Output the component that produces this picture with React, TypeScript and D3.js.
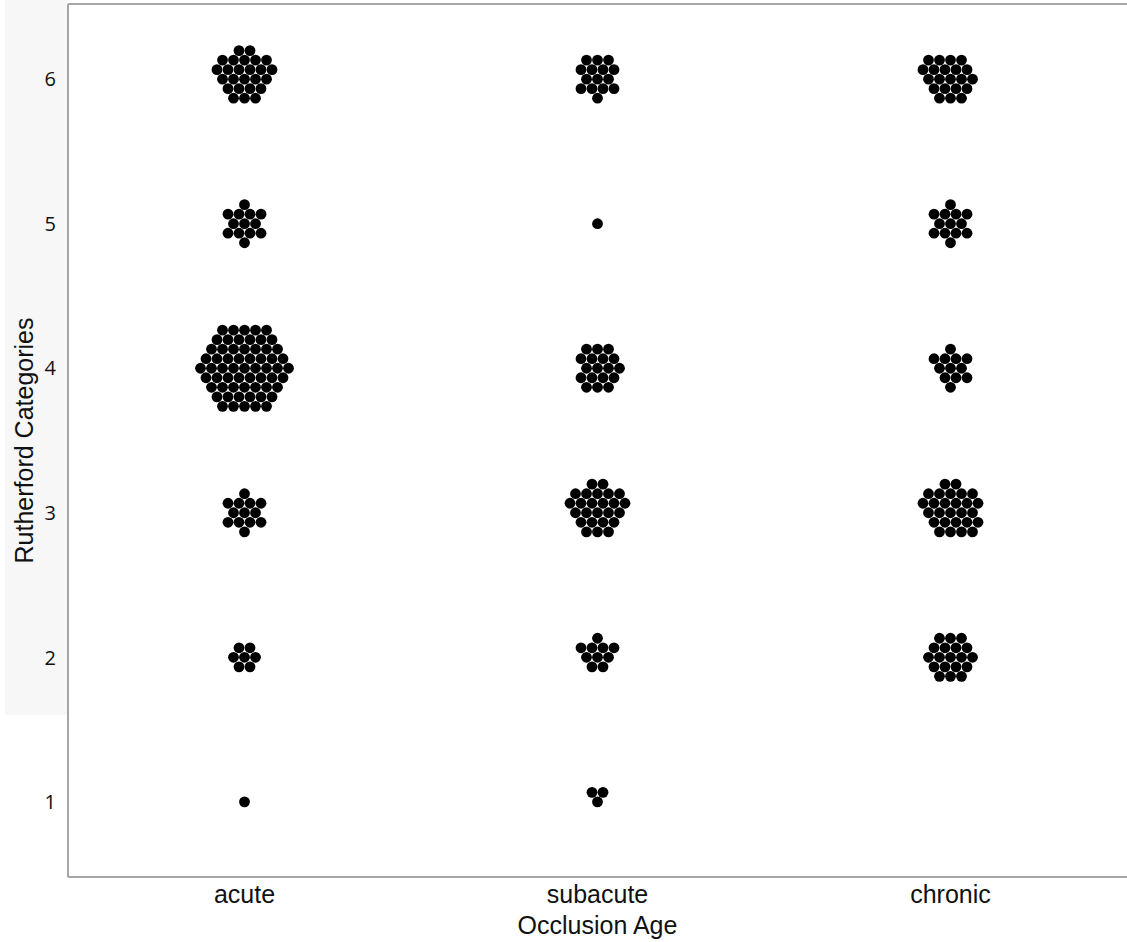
import { useRef, useEffect } from 'react';
import * as d3 from 'd3';

// Occlusion age groups and Rutherford categories
const categories = ["acute", "subacute", "chronic"];
const levels = [1, 2, 3, 4, 5, 6];
// number of patients per Rutherford category (index = level - 1)
const acuteCounts = [1, 7, 13, 61, 13, 25];
const subacuteCounts = [3, 10, 25, 18, 1, 15];
const chronicCounts = [0, 19, 27, 12, 13, 21];
const yTicks = [1, 2, 3, 4, 5, 6];

const countsByCategory: Record<string, number[]> = {
  acute: acuteCounts,
  subacute: subacuteCounts,
  chronic: chronicCounts,
};

const W = 1127;
const H = 942;

// hex-packed offsets, nearest to the centre first
const hexOffsets = (n: number, step: number) => {
  const rowH = step * Math.sqrt(3) / 2;
  const R = 12;
  const cand: { dx: number; dy: number; d: number; a: number }[] = [];
  for (let r = -R; r <= R; r++) {
    for (let c = -R; c <= R; c++) {
      const dx = (c + (Math.abs(r) % 2 ? 0.5 : 0)) * step;
      const dy = r * rowH;
      cand.push({ dx, dy, d: Math.hypot(dx, dy), a: Math.atan2(dy, dx) });
    }
  }
  cand.sort((p, q) => (Math.abs(p.d - q.d) > 0.01 ? p.d - q.d : p.a - q.a));
  return cand.slice(0, n);
};

const App = () => {
  const svgRef = useRef<SVGSVGElement>(null);

  useEffect(() => {
    const svg = d3.select(svgRef.current);
    svg.selectAll("*").remove();

    const margin = { top: 4, right: 0, bottom: 65, left: 68 };
    const x = d3.scaleBand()
      .domain(categories)
      .range([margin.left, W - margin.right]);
    const y = d3.scaleLinear()
      .domain([0.48, 6.52])
      .range([H - margin.bottom, margin.top]);

    // light grey strip behind the y axis labels
    svg.append("rect")
      .attr("x", 5)
      .attr("y", 0)
      .attr("width", margin.left - 5)
      .attr("height", y(1.6))
      .attr("fill", "#f7f7f7");

    // points
    const step = 11;
    const points: { cat: string; level: number; dx: number; dy: number }[] = [];
    categories.forEach(cat => {
      levels.forEach((lv, i) => {
        hexOffsets(countsByCategory[cat][i], step).forEach(o => {
          points.push({ cat, level: lv, dx: o.dx, dy: o.dy });
        });
      });
    });

    svg.append("g")
      .selectAll("circle")
      .data(points)
      .enter()
      .append("circle")
      .attr("cx", d => (x(d.cat) as number) + x.bandwidth() / 2 + d.dx)
      .attr("cy", d => y(d.level) + d.dy)
      .attr("r", 5.4)
      .attr("fill", "#000");

    // frame lines
    const axisColor = "#a6a6a6";
    svg.append("line")
      .attr("x1", margin.left).attr("x2", W)
      .attr("y1", margin.top).attr("y2", margin.top)
      .attr("stroke", axisColor).attr("stroke-width", 2);
    svg.append("line")
      .attr("x1", margin.left).attr("x2", margin.left)
      .attr("y1", margin.top).attr("y2", H - margin.bottom)
      .attr("stroke", axisColor).attr("stroke-width", 2);
    svg.append("line")
      .attr("x1", margin.left).attr("x2", W)
      .attr("y1", H - margin.bottom).attr("y2", H - margin.bottom)
      .attr("stroke", axisColor).attr("stroke-width", 2);

    // y tick labels
    svg.append("g")
      .selectAll("text")
      .data(yTicks)
      .enter()
      .append("text")
      .attr("x", 56)
      .attr("y", d => y(d))
      .attr("dy", "0.36em")
      .attr("text-anchor", "end")
      .attr("font-family", "'Open Sans', 'Noto Sans', sans-serif")
      .attr("font-size", 20)
      .attr("fill", "#111")
      .text(d => d);

    // x tick labels
    svg.append("g")
      .selectAll("text")
      .data(categories)
      .enter()
      .append("text")
      .attr("x", d => (x(d) as number) + x.bandwidth() / 2)
      .attr("y", 903)
      .attr("text-anchor", "middle")
      .attr("font-family", "'Liberation Sans', Arial, sans-serif")
      .attr("font-size", 25)
      .attr("fill", "#111")
      .text(d => d);

    // axis titles
    svg.append("text")
      .attr("x", (margin.left + W) / 2)
      .attr("y", 934)
      .attr("text-anchor", "middle")
      .attr("font-family", "'Liberation Sans', Arial, sans-serif")
      .attr("font-size", 25)
      .attr("fill", "#111")
      .text("Occlusion Age");

    svg.append("text")
      .attr("transform", `translate(33,${(margin.top + H - margin.bottom) / 2}) rotate(-90)`)
      .attr("text-anchor", "middle")
      .attr("font-family", "'Liberation Sans', Arial, sans-serif")
      .attr("font-size", 25)
      .attr("fill", "#111")
      .text("Rutherford Categories");
  }, []);

  return (
    <svg
      ref={svgRef}
      width={W}
      height={H}
      style={{ position: 'absolute', left: 0, top: 0, background: '#fff' }}
    />
  );
};

export default App;
